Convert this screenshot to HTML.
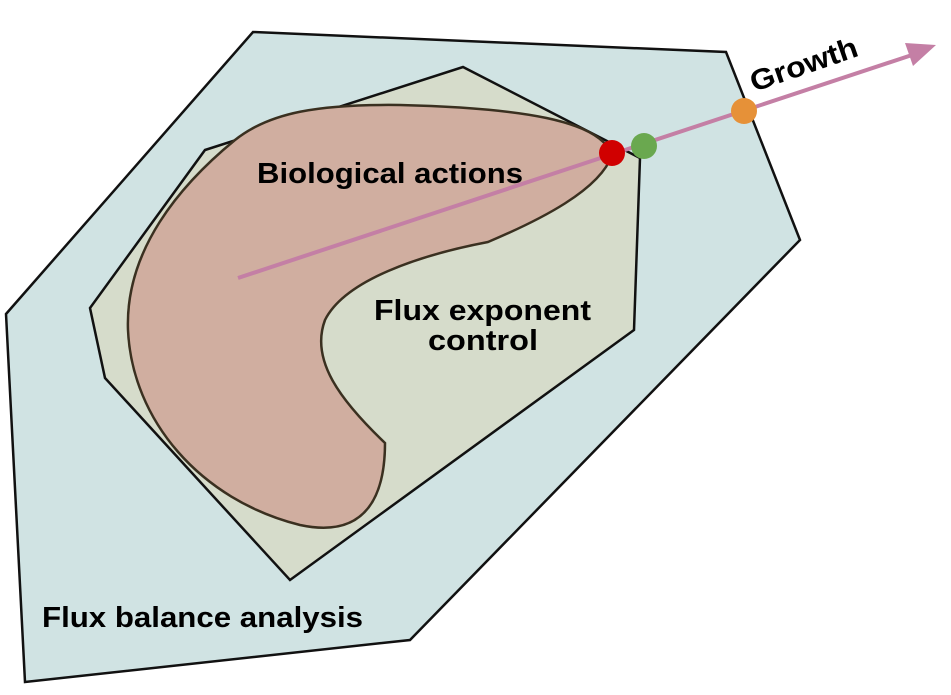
<!DOCTYPE html>
<html><head><meta charset="utf-8"><style>html,body{margin:0;padding:0;background:#fff}svg{display:block}</style></head>
<body>
<svg width="951" height="695" viewBox="0 0 951 695" xmlns="http://www.w3.org/2000/svg" font-family="'Liberation Sans', sans-serif" font-weight="bold">
  <polygon points="253,32 726,52 800,240 410,640 25,682 6,314" fill="#d0e3e3" stroke="#111" stroke-width="2.5"/>
  <polygon points="205,150 463,67 640,158 634,330 290,580 105,378 90,308" fill="#d6dccb" stroke="#111" stroke-width="2.5"/>
  <path d="M612,155 C600,120 520,108 400,105 C320,104 270,112 235,140 C180,185 125,250 128,330 C132,420 200,500 300,525 C370,540 385,490 385,443 C340,400 310,360 325,320 C345,280 420,255 488,242 C540,220 600,190 612,155 Z" fill="#d0aea0" stroke="#3a3020" stroke-width="2.5"/>
  <line x1="238" y1="278" x2="912" y2="55" stroke="#c47fa5" stroke-width="4"/>
  <polygon points="936,45 905,43 913,66" fill="#c47fa5"/>
  <circle cx="612" cy="153" r="13" fill="#d00000"/>
  <circle cx="644" cy="146" r="13" fill="#6aa84f"/>
  <circle cx="744" cy="111" r="13" fill="#e69138"/>
  <text x="257" y="183" font-size="29" textLength="266" lengthAdjust="spacingAndGlyphs" fill="#000">Biological actions</text>
  <text x="374" y="320" font-size="29" textLength="217" lengthAdjust="spacingAndGlyphs" fill="#000">Flux exponent</text>
  <text x="428" y="350" font-size="29" textLength="110" lengthAdjust="spacingAndGlyphs" fill="#000">control</text>
  <text x="42" y="627" font-size="29" textLength="321" lengthAdjust="spacingAndGlyphs" fill="#000">Flux balance analysis</text>
  <text x="0" y="0" font-size="29" textLength="112" lengthAdjust="spacingAndGlyphs" fill="#000" transform="translate(754,92) rotate(-19)">Growth</text>
</svg>
</body></html>
